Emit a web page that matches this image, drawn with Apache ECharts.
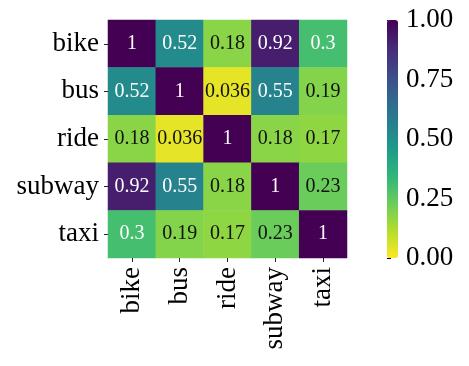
<!DOCTYPE html>
<html>
<head>
<meta charset="utf-8">
<script src="https://cdn.jsdelivr.net/npm/echarts@6/dist/echarts.min.js"></script>
<style>
  html, body { margin: 0; padding: 0; background: #fff; }
  #chart { width: 469px; height: 366px; }
</style>
</head>
<body>
<div id="chart"></div>
<script>
// 类别
const modes = ['bike', 'bus', 'ride', 'subway', 'taxi'];

// 相关系数矩阵（按行）
const bikeRow = [1, 0.52, 0.18, 0.92, 0.3];
const busRow = [0.52, 1, 0.036, 0.55, 0.19];
const rideRow = [0.18, 0.036, 1, 0.18, 0.17];
const subwayRow = [0.92, 0.55, 0.18, 1, 0.23];
const taxiRow = [0.3, 0.19, 0.17, 0.23, 1];

// 色条刻度
const barTicks = [0, 0.25, 0.5, 0.75, 1];

// viridis 反转（0 -> 黄，1 -> 紫）
const viridis = ['#fde725', '#b5de2b', '#6ece58', '#35b779', '#1f9e89',
    '#26828e', '#31688e', '#3e4989', '#482878', '#440154'];

const FONT = 'Liberation Serif';

const rows = [bikeRow, busRow, rideRow, subwayRow, taxiRow];
let data = [];
rows.forEach((row, i) => {
    row.forEach((v, j) => {
        data.push({
            value: [j, i, v],
            label: { color: v >= 0.25 ? '#fff' : '#111' }
        });
    });
});

let chart = echarts.init(document.getElementById('chart'));

chart.setOption({
    animation: false,
    textStyle: { fontFamily: FONT },
    grid: [
        { left: 108, top: 20, width: 239, height: 238 },
        // 色条坐标轴
        { left: 387, top: 20, width: 11, height: 238 }
    ],
    xAxis: [{
        type: 'category',
        data: modes,
        gridIndex: 0,
        axisLine: { show: false },
        axisTick: { show: true, length: 4, alignWithLabel: true, lineStyle: { color: '#222' } },
        axisLabel: { rotate: 90, margin: 9, fontSize: 27, color: '#000', fontFamily: FONT },
        splitArea: { show: false }
    }, {
        type: 'value',
        gridIndex: 1,
        show: false
    }],
    yAxis: [{
        type: 'category',
        data: modes,
        inverse: true,
        gridIndex: 0,
        axisLine: { show: false },
        axisTick: { show: true, length: 4, alignWithLabel: true, lineStyle: { color: '#222' } },
        axisLabel: { margin: 9, fontSize: 27, color: '#000', fontFamily: FONT }
    }, {
        type: 'value',
        gridIndex: 1,
        position: 'right',
        min: barTicks[0],
        max: barTicks[barTicks.length - 1],
        interval: 0.25,
        axisLine: { show: false },
        axisTick: { show: true, length: 4, lineStyle: { color: '#000', width: 1 } },
        splitLine: { show: false },
        axisLabel: {
            margin: 8,
            fontSize: 27,
            color: '#000',
            fontFamily: FONT,
            formatter: (v) => v.toFixed(2)
        }
    }],
    visualMap: {
        type: 'continuous',
        min: 0,
        max: 1,
        seriesIndex: 0,
        calculable: false,
        hoverLink: false,
        realtime: false,
        left: 387,
        top: 20,
        padding: 0,
        itemWidth: 11,
        itemHeight: 238,
        text: null,
        showLabel: false,
        textStyle: { fontSize: 0 },
        inRange: { color: viridis }
    },
    series: [{
        type: 'heatmap',
        xAxisIndex: 0,
        yAxisIndex: 0,
        data: data,
        label: {
            show: true,
            fontSize: 20,
            fontFamily: FONT,
            formatter: (p) => String(p.value[2])
        },
        itemStyle: { borderWidth: 0 }
    }]
});
</script>
</body>
</html>
